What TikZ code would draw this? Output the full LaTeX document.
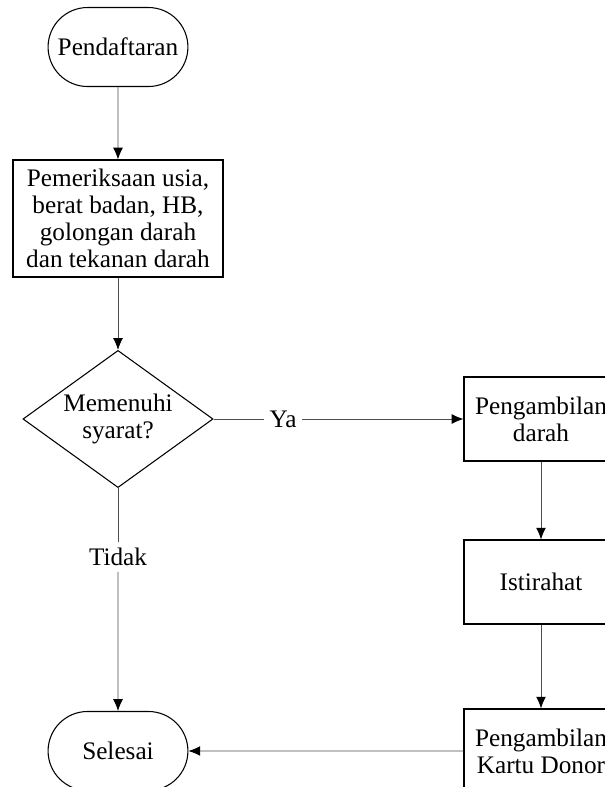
\documentclass[tikz,border=0pt]{standalone}
\usepackage{fontspec}
\setmainfont{Liberation Serif}
\usetikzlibrary{shapes.geometric,shapes.misc,arrows.meta}
\begin{document}
\begin{tikzpicture}[font=\fontsize{19}{20.25}\selectfont,
    terminal/.style = {rounded rectangle,draw=black,thick,minimum width=3.70cm,minimum height=2.09cm,inner sep=0mm},
    process/.style = {rectangle,draw=black,thick,align=center,minimum width=4.075cm,minimum height=2.222cm,inner sep=1mm},
    decision/.style = {diamond,draw=black,thick,align=center,aspect=1.4,minimum width=5.03cm,minimum height=3.63cm,inner sep=0mm},
    answer/.style = {fill=white,inner sep=1.5mm},
    flow/.style = {draw=black!70,semithick,-{Latex[length=3.1mm,width=2.6mm,color=black]}},
    link/.style = {draw=black!70,semithick}]
\useasboundingbox (0,0) rectangle (16.007,-20.823);
\clip (0,0) rectangle (16.007,-20.823);
% left column
\node[terminal] (daftar) at (3.122,-1.244) {Pendaftaran};
\node[process,minimum width=5.556cm,minimum height=3.096cm] (periksa) at (3.122,-5.781)
    {Pemeriksaan usia,\\berat badan, HB,\\golongan darah\\dan tekanan darah};
\node[decision] (syarat) at (3.122,-11.086) {Memenuhi\\syarat?};
\node[answer] (tidak) at (3.122,-14.737) {Tidak};
\node[terminal] (selesai) at (3.122,-19.870) {Selesai};
% right column
\node[answer] (ya) at (7.488,-11.086) {Ya};
\node[process] (ambil) at (14.314,-11.086) {Pengambilan\\darah};
\node[process] (istirahat) at (14.314,-15.399) {Istirahat};
\node[process] (kartu) at (14.314,-19.870) {Pengambilan\\Kartu Donor};
% connectors
\draw[flow] (daftar) -- (periksa);
\draw[flow] (periksa) -- (syarat);
\draw[link] (syarat) -- (ya);
\draw[flow] (ya) -- (ambil);
\draw[link] (syarat) -- (tidak);
\draw[flow] (tidak) -- (selesai);
\draw[flow] (ambil) -- (istirahat);
\draw[flow] (istirahat) -- (kartu);
\draw[flow] (kartu) -- (selesai);
\end{tikzpicture}
\end{document}
